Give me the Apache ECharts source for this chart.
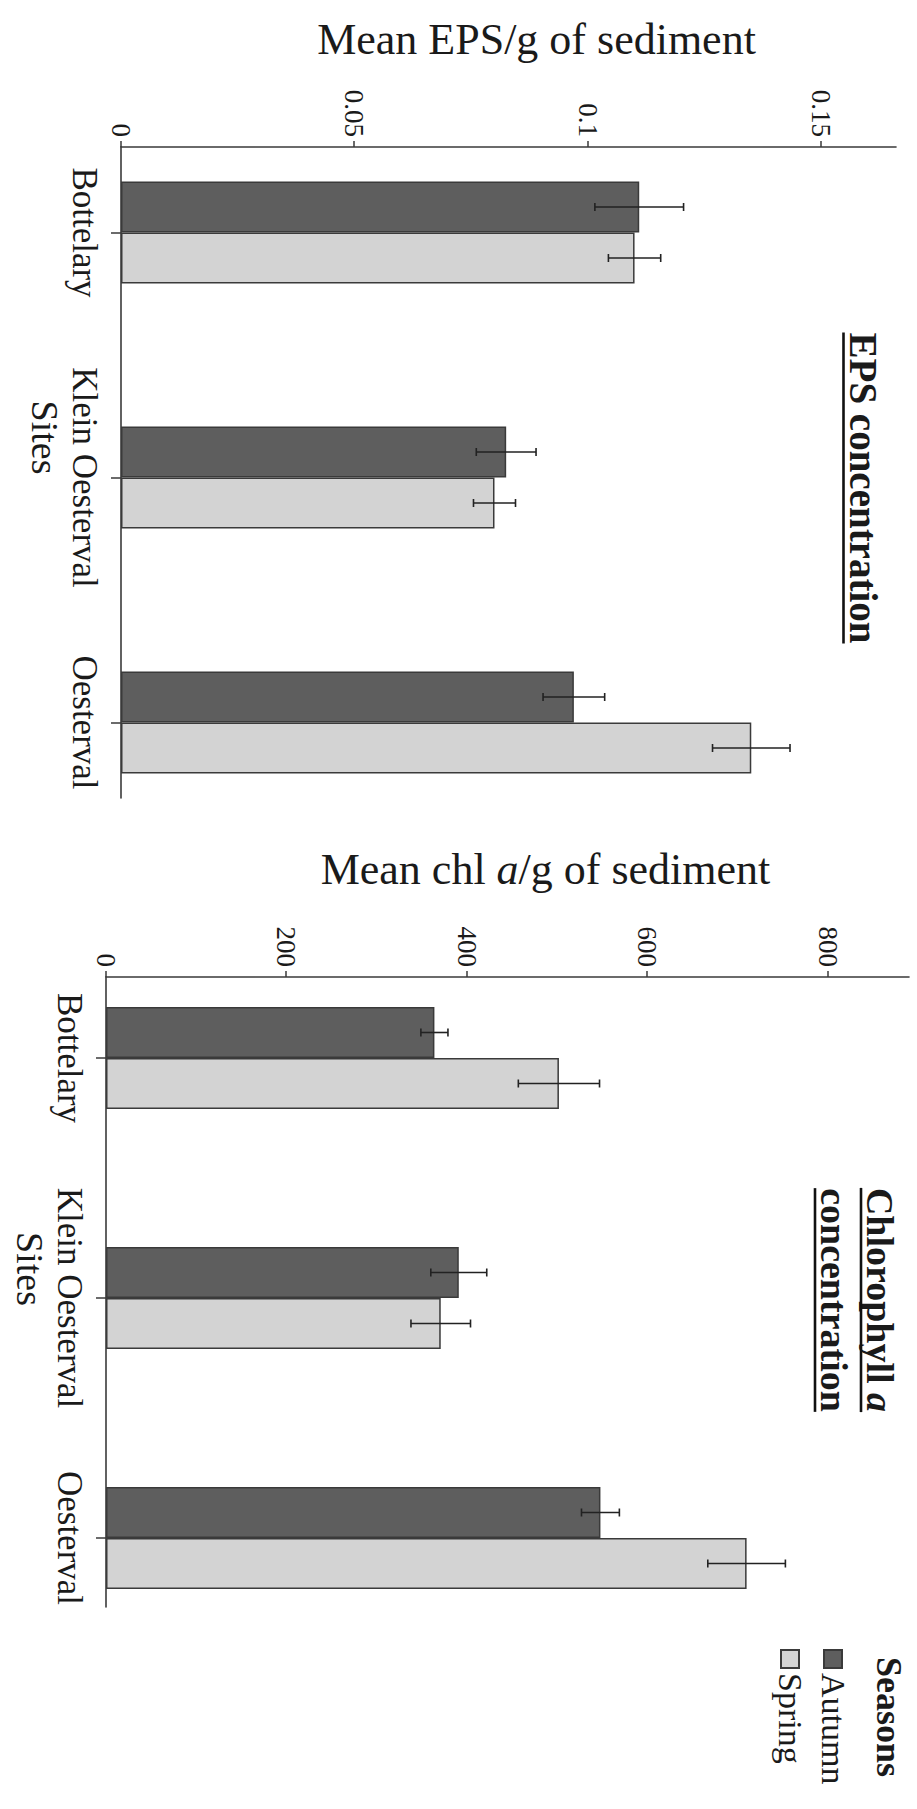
<!DOCTYPE html>
<html><head><meta charset="utf-8">
<script src="https://cdn.jsdelivr.net/npm/echarts@6/dist/echarts.min.js"></script>
<style>
html,body{margin:0;padding:0;background:#fff;}
#wrap{position:relative;width:917px;height:1809px;overflow:hidden;background:#fff;}
#chart{position:absolute;left:0;top:0;width:1809px;height:917px;transform-origin:0 0;transform:matrix(0,1,-1,0,917,0);}
</style></head><body>
<div id="wrap"><div id="chart"></div></div>
<script>
// ---------- DATA ----------
const sites = ['Bottelary', 'Klein Oesterval', 'Oesterval'];
const seasons = ['Autumn', 'Spring'];
const epsAutumn = [0.111, 0.0825, 0.097];
const epsSpring = [0.110, 0.080, 0.135];
const epsAutumnErr = [0.0095, 0.0064, 0.0066];
const epsSpringErr = [0.0056, 0.0045, 0.0083];
const chlAutumn = [364, 391, 548];
const chlSpring = [502, 371, 710];
const chlAutumnErr = [15, 31, 21];
const chlSpringErr = [45, 33, 43];
const epsTicks = [0, 0.05, 0.1, 0.15];
const chlTicks = [0, 200, 400, 600, 800];

// ---------- LAYOUT / STYLE ----------
const W = 1809, H = 917;
const FONT = "'Liberation Serif','Times New Roman',serif";
const TXT = '#1a1a1a';
const AX = '#3a3a3a';
const BAR_W = 51;
const colAutumn = '#5e5e5e', colSpring = '#d3d3d3';
const epsMax = 0.166, chlMax = 890;

const chart = echarts.init(document.getElementById('chart'), null, {renderer: 'svg', width: W, height: H});

function barStyle(c) { return {color: c, borderColor: '#3a3a3a', borderWidth: 1.5}; }

function errSeries(name, xi, yi, vals, errs, off) {
  return {
    type: 'custom', name: name, xAxisIndex: xi, yAxisIndex: yi, z: 5,
    data: vals.map((v, i) => [i, v, errs[i]]),
    encode: {x: 0, y: 1},
    silent: true,
    renderItem: function (params, api) {
      const lo = api.coord([api.value(0), api.value(1) - api.value(2)]);
      const hi = api.coord([api.value(0), api.value(1) + api.value(2)]);
      const x = lo[0] + off;
      const st = {stroke: '#222', lineWidth: 1.6};
      const cap = 4;
      return {type: 'group', children: [
        {type: 'line', shape: {x1: x, y1: lo[1], x2: x, y2: hi[1]}, style: st},
        {type: 'line', shape: {x1: x - cap, y1: lo[1], x2: x + cap, y2: lo[1]}, style: st},
        {type: 'line', shape: {x1: x - cap, y1: hi[1], x2: x + cap, y2: hi[1]}, style: st}
      ]};
    }
  };
}

function catAxisBars(gi) {
  return {type: 'category', gridIndex: gi, data: sites,
    axisLine: {show: false},
    axisTick: {show: true, alignWithLabel: true, length: 10, lineStyle: {color: AX, width: 1.5}},
    axisLabel: {interval: 0, fontSize: 35, fontFamily: FONT, color: TXT, margin: 19}};
}
function catAxisLine(gi, padR) {
  return {type: 'category', gridIndex: gi, data: sites,
    axisLine: {show: true, lineStyle: {color: AX, width: 1.6}},
    axisTick: {show: false}, axisLabel: {show: false},
    name: 'Sites', nameLocation: 'middle', nameGap: 57,
    nameTextStyle: {fontSize: 38, fontFamily: FONT, color: TXT, padding: [0, padR, 0, 0]}};
}
function valAxisHidden(gi, max) {
  return {type: 'value', gridIndex: gi, min: 0, max: max, show: false, splitLine: {show: false}};
}
function valAxisLine(gi, max, ticks, name, padL, rich) {
  return {type: 'value', gridIndex: gi, min: 0, max: max,
    axisLine: {show: true, lineStyle: {color: AX, width: 1.6}},
    axisTick: {show: true, length: 6, customValues: ticks, lineStyle: {color: AX, width: 1.5}},
    axisLabel: {show: true, customValues: ticks, fontSize: 27, fontFamily: FONT, color: TXT, margin: 10},
    splitLine: {show: false},
    name: name, nameLocation: 'middle', nameRotate: 90, nameGap: 86,
    nameTextStyle: {fontSize: 44, fontFamily: FONT, color: TXT, padding: [0, 0, 0, padL], rich: rich}};
}

// title with underline(s)
const mctx = document.createElement('canvas').getContext('2d');
function measure(font, t) { mctx.font = font; return mctx.measureText(t).width; }
function titleGroup(lines, cx, cy, fs, lineH) {
  const children = [];
  lines.forEach((ln, i) => {
    const y = (i - (lines.length - 1) / 2) * lineH;
    let w = 0;
    ln.forEach(p => { w += measure((p.it ? 'italic ' : '') + 'bold ' + fs + 'px ' + FONT, p.t); });
    let text = '', rich = {};
    ln.forEach((p, j) => {
      const key = 's' + j;
      text += '{' + key + '|' + p.t + '}';
      rich[key] = {fontSize: fs, fontFamily: FONT, fontWeight: 'bold', fontStyle: p.it ? 'italic' : 'normal', fill: TXT, color: TXT};
    });
    children.push({type: 'text', x: 0, y: y, style: {text: text, rich: rich, fill: TXT, font: 'bold ' + fs + 'px ' + FONT, align: 'center', verticalAlign: 'middle'}});
    children.push({type: 'line', shape: {x1: -w / 2, y1: y + fs * 0.5, x2: w / 2, y2: y + fs * 0.5}, style: {stroke: '#111', lineWidth: 2.6}});
  });
  return {type: 'group', x: cx, y: cy, children: children};
}

const option = {
  backgroundColor: '#ffffff',
  animation: false,
  grid: [
    {left: 110, top: 21, width: 735, height: 775},
    {left: 147, top: 21, width: 651, height: 775},
    {left: 938, top: 8, width: 720, height: 803},
    {left: 977, top: 8, width: 630, height: 803}
  ],
  xAxis: [catAxisBars(0), catAxisLine(1, 70), catAxisBars(2), catAxisLine(3, 46)],
  yAxis: [
    valAxisHidden(0, epsMax),
    valAxisLine(1, epsMax, epsTicks, 'Mean EPS/g of sediment', 56),
    valAxisHidden(2, chlMax),
    valAxisLine(3, chlMax, chlTicks, 'Mean chl {i|a}/g of sediment', 76,
      {i: {fontSize: 44, fontFamily: FONT, fontStyle: 'italic', color: TXT}})
  ],
  legend: {
    data: seasons, orient: 'vertical', left: 1644, top: 62,
    itemWidth: 18, itemHeight: 18, itemGap: 9, icon: 'rect',
    textStyle: {fontSize: 34, fontFamily: FONT, color: TXT}
  },
  series: [
    {type: 'bar', name: 'Autumn', xAxisIndex: 0, yAxisIndex: 0, data: epsAutumn, barWidth: BAR_W, barGap: '0%', itemStyle: barStyle(colAutumn)},
    {type: 'bar', name: 'Spring', xAxisIndex: 0, yAxisIndex: 0, data: epsSpring, barWidth: BAR_W, barGap: '0%', itemStyle: barStyle(colSpring)},
    {type: 'bar', name: 'Autumn', xAxisIndex: 2, yAxisIndex: 2, data: chlAutumn, barWidth: BAR_W, barGap: '0%', itemStyle: barStyle(colAutumn)},
    {type: 'bar', name: 'Spring', xAxisIndex: 2, yAxisIndex: 2, data: chlSpring, barWidth: BAR_W, barGap: '0%', itemStyle: barStyle(colSpring)},
    errSeries('errEpsA', 0, 0, epsAutumn, epsAutumnErr, -BAR_W / 2),
    errSeries('errEpsS', 0, 0, epsSpring, epsSpringErr, BAR_W / 2),
    errSeries('errChlA', 2, 2, chlAutumn, chlAutumnErr, -BAR_W / 2),
    errSeries('errChlS', 2, 2, chlSpring, chlSpringErr, BAR_W / 2),
    {type: 'line', xAxisIndex: 1, yAxisIndex: 1, data: [], silent: true},
    {type: 'line', xAxisIndex: 3, yAxisIndex: 3, data: [], silent: true}
  ],
  graphic: [
    titleGroup([[{t: 'EPS concentration'}]], 488, 54, 39, 46),
    titleGroup([[{t: 'Chlorophyll '}, {t: 'a', it: true}], [{t: 'concentration'}]], 1300, 60, 38, 46),
    {type: 'text', x: 1657, y: 28, style: {text: 'Seasons', font: 'bold 36px ' + FONT, fill: TXT, align: 'left', verticalAlign: 'middle'}}
  ]
};
chart.setOption(option);
</script>
</body></html>
